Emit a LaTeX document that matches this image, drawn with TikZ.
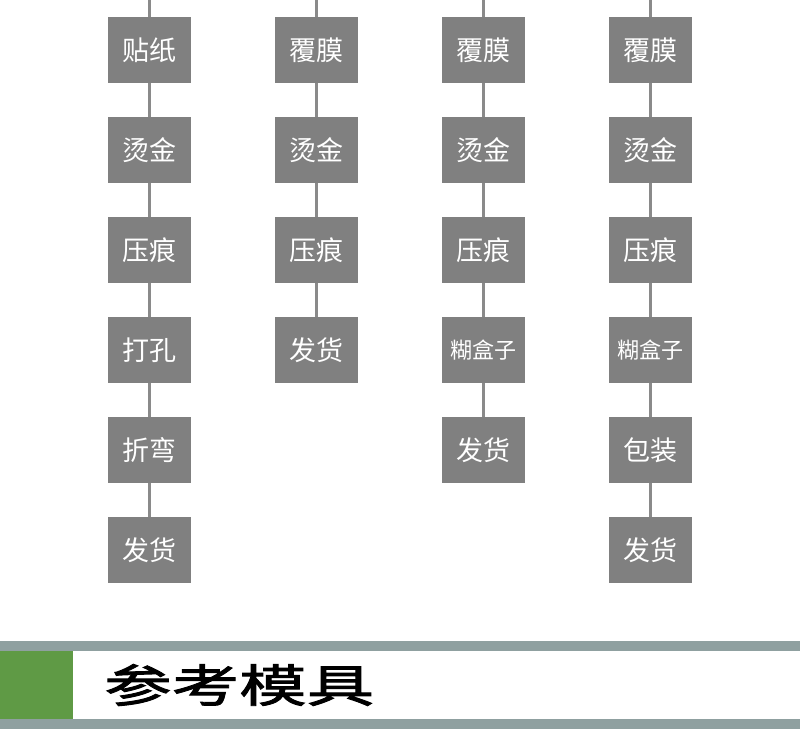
\documentclass[tikz,border=0pt]{standalone}
\usepackage{fontspec}
\usepackage{tikz}
\newfontfamily\cjk{Noto Sans CJK SC}
\newfontfamily\titlefont[FakeStretch=1.5,FakeBold=2]{Noto Sans CJK SC}
\definecolor{boxgray}{RGB}{128, 128, 128}
\definecolor{linegray}{RGB}{138, 138, 138}
\definecolor{bandgray}{RGB}{143, 160, 160}
\definecolor{leafgreen}{RGB}{95, 154, 69}

\begin{document}
\begin{tikzpicture}[x=1pt, y=-1pt,
	stepbox/.style={rectangle, fill=boxgray, text=white, minimum width=83pt, minimum height=66pt, inner sep=0pt, font=\cjk\fontsize{27}{27}\selectfont},
	smallbox/.style={stepbox, font=\cjk\fontsize{22}{22}\selectfont},
	link/.style={linegray, line width=3pt}]
	\useasboundingbox (0,0) rectangle (800,729);
	
	% tops
	\coordinate (ta) at (149.5,0);
	\coordinate (tb) at (316.5,0);
	\coordinate (tc) at (483.5,0);
	\coordinate (td) at (650.5,0);
	
	% column 1
	\node[stepbox] (a1) at (149.5,50) {贴纸};
	\node[stepbox] (a2) at (149.5,150) {烫金};
	\node[stepbox] (a3) at (149.5,250) {压痕};
	\node[stepbox] (a4) at (149.5,350) {打孔};
	\node[stepbox] (a5) at (149.5,450) {折弯};
	\node[stepbox] (a6) at (149.5,550) {发货};
	% column 2
	\node[stepbox] (b1) at (316.5,50) {覆膜};
	\node[stepbox] (b2) at (316.5,150) {烫金};
	\node[stepbox] (b3) at (316.5,250) {压痕};
	\node[stepbox] (b4) at (316.5,350) {发货};
	% column 3
	\node[stepbox] (c1) at (483.5,50) {覆膜};
	\node[stepbox] (c2) at (483.5,150) {烫金};
	\node[stepbox] (c3) at (483.5,250) {压痕};
	\node[smallbox] (c4) at (483.5,350) {糊盒子};
	\node[stepbox] (c5) at (483.5,450) {发货};
	% column 4
	\node[stepbox] (d1) at (650.5,50) {覆膜};
	\node[stepbox] (d2) at (650.5,150) {烫金};
	\node[stepbox] (d3) at (650.5,250) {压痕};
	\node[smallbox] (d4) at (650.5,350) {糊盒子};
	\node[stepbox] (d5) at (650.5,450) {包装};
	\node[stepbox] (d6) at (650.5,550) {发货};
	
	% links
	\draw[link] (ta) -- (a1) -- (a2) -- (a3) -- (a4) -- (a5) -- (a6);
	\draw[link] (tb) -- (b1) -- (b2) -- (b3) -- (b4);
	\draw[link] (tc) -- (c1) -- (c2) -- (c3) -- (c4) -- (c5);
	\draw[link] (td) -- (d1) -- (d2) -- (d3) -- (d4) -- (d5) -- (d6);
	
	% title bar
	\fill[bandgray] (0,641) rectangle (800,651);
	\fill[bandgray] (0,719) rectangle (800,729);
	\fill[leafgreen] (0,651) rectangle (73,719);
	\node[anchor=west, inner sep=0pt, font=\titlefont\fontsize{45}{45}\selectfont] (title) at (104,685) {参考模具};
\end{tikzpicture}
\end{document}
